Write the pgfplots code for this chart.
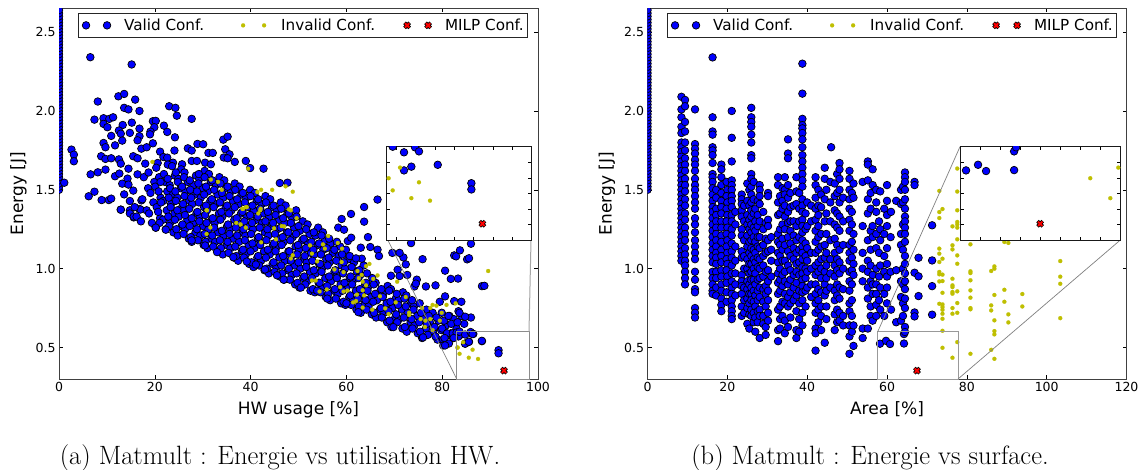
\documentclass[border=0pt]{standalone}
\usepackage{fontspec}
\setmainfont{DejaVu Sans}
\newfontfamily\capfont{Latin Modern Roman}
\usepackage{pgfplots}
\pgfplotsset{compat=1.18}
\definecolor{vblue}{rgb}{0,0,1}
\definecolor{iyel}{rgb}{0.75,0.75,0}
\pgfdeclareplotmark{milp}{%
  \pgfsetbuttcap
  \pgfsetlinewidth{3.6pt}\pgfsetstrokecolor{black}
  \pgfpathmoveto{\pgfpoint{-2.6pt}{-2.6pt}}\pgfpathlineto{\pgfpoint{2.6pt}{2.6pt}}
  \pgfpathmoveto{\pgfpoint{-2.6pt}{2.6pt}}\pgfpathlineto{\pgfpoint{2.6pt}{-2.6pt}}
  \pgfusepathqstroke
  \pgfsetlinewidth{1.9pt}\pgfsetstrokecolor{red}
  \pgfpathmoveto{\pgfpoint{-2.2pt}{-2.2pt}}\pgfpathlineto{\pgfpoint{2.2pt}{2.2pt}}
  \pgfpathmoveto{\pgfpoint{-2.2pt}{2.2pt}}\pgfpathlineto{\pgfpoint{2.2pt}{-2.2pt}}
  \pgfusepathqstroke}
\pgfplotsset{
  validstyle/.style={only marks,mark=*,mark size=3.8pt,mark options={fill=vblue,draw=black,line width=0.7pt}},
  invalidstyle/.style={only marks,mark=*,mark size=2pt,mark options={fill=iyel,draw=iyel,line width=0.2pt}},
  milpstyle/.style={only marks,mark=milp},
  basestyle/.style={
    scale only axis, anchor=south west, axis line style={draw=black!75,line width=0.9pt},
    tick align=inside, major tick length=4pt,
    tick style={black,line width=0.6pt}, clip=true, clip mode=global, clip marker paths=true,
    axis background/.style={fill=white}},
  mainstyle/.style={basestyle,
    width=479pt,height=370.5pt,ymin=0.3,ymax=2.65,
    ytick={0.5,1,1.5,2,2.5},yticklabels={0.5,1.0,1.5,2.0,2.5},
    ylabel={Energy [J]},
    tick label style={font=\fontsize{12.5}{14}\selectfont},
    /pgf/number format/assume math mode=true,
    label style={font=\fontsize{17}{20}\selectfont},
    xlabel style={yshift=-3pt},
    ylabel style={yshift=2pt},
    legend columns=3,
    legend cell align=left,
    legend style={font=\fontsize{15.2}{17}\selectfont,draw=black!85,line width=0.7pt,
      inner xsep=2pt,inner ysep=3pt,
      /tikz/every even column/.append style={column sep=0pt}},
    legend image code/.code={\path[#1,draw=none] plot coordinates {(0pt,0pt)};\path[#1,draw=none] plot coordinates {(21pt,0pt)};\path[draw=none] (-6pt,0)--(36pt,0);}
  },
  insetstyle/.style={basestyle,xticklabels={},yticklabels={},
    axis line style={draw=black!90,line width=0.9pt},major tick length=3.5pt}
}
\begin{document}
\begin{tikzpicture}
\path[use as bounding box] (0pt,0pt) rectangle (1142pt,469pt);
\begin{axis}[mainstyle,at={(59pt,90pt)},xmin=0,xmax=100,xtick={0,20,...,100},xlabel={HW usage [\%]},
  legend style={at={(18.7pt,365.5pt)},anchor=north west}]
\addplot[validstyle] coordinates {
(0,1.50)(0,1.52)(0,1.54)(0,1.56)(0,1.58)(0,1.60)(0,1.62)(0,1.64)(0,1.66)(0,1.68)(0,1.70)(0,1.72)(0,1.74)(0,1.76)(0,1.78)(0,1.80)(0,1.82)(0,1.84)(0,1.86)(0,1.88)(0,1.90)(0,1.92)(0,1.94)(0,1.96)(0,1.98)(0,2.00)(0,2.02)(0,2.04)(0,2.06)(0,2.08)(0,2.10)(0,2.12)(0,2.14)(0,2.16)(0,2.18)(0,2.20)(0,2.22)(0,2.24)(0,2.26)(0,2.28)(0,2.30)(0,2.32)(0,2.34)(0,2.36)(0,2.38)(0,2.40)(0,2.42)(0,2.44)(0,2.46)(0,2.48)(0,2.50)(0,2.52)(0,2.54)(0,2.56)(0,2.58)(0,2.60)(0,2.62)(0,2.64)(0,2.66)
(6.54,2.341)(15.17,2.295)(12.4,2.093)(13.6,2.108)(8.1,2.06)(15.9,2.072)(13.6,2.02)(14.5,2.01)(16.8,2.0)(23.0,2.03)(24.3,2.02)(24.6,1.97)(27.7,1.95)(7.4,1.945)(9.3,1.954)(10.5,1.95)(11.3,1.96)(9.3,1.918)(10.1,1.897)(13.3,1.911)(15.2,1.926)(19.6,1.935)(20.2,1.937)(19.9,1.897)(21.9,1.907)(12.5,1.876)(16.8,1.888)(12.9,1.856)(14.8,1.861)(19.1,1.869)(19,1.852)(22.6,1.867)(24.2,1.833)(10.9,1.842)(16.8,1.84)(16.4,1.814)(13.2,1.812)(34.3,1.818)(35.2,1.837)(9.3,1.797)(9.7,1.77)(11.7,1.782)(17.2,1.761)(18.3,1.77)(19.6,1.795)(21.1,1.742)(24.1,1.749)(26.9,1.763)(27.7,1.749)(28.9,1.791)(30.1,1.789)(31.2,1.734)(32.1,1.734)(34.7,1.757)(35.6,1.725)(34.4,1.705)(35.2,1.7)
(2.6,1.755)(3.1,1.723)(3.1,1.681)(1.1,1.545)(6.6,1.598)(8.1,1.611)(9.7,1.628)(8.8,1.713)(9.7,1.696)(10.9,1.70)(12.5,1.693)(12.9,1.666)(11.7,1.586)(12.6,1.603)(14.5,1.634)(14.3,1.571)(13.2,1.539)(14.5,1.533)(13.6,1.471)(15.5,1.495)(6.2,1.459)(7.4,1.488)(8.9,1.435)(10.4,1.435)(10.9,1.444)(12.9,1.374)(14.8,1.429)(14.8,1.37)(15.6,1.325)(16.8,1.378)(17.2,1.433)(16.4,1.598)(15.5,1.713)(16.4,1.7)(18,1.666)(20.6,1.67)(21.8,1.708)(22.6,1.704)(23.8,1.672)(25.7,1.662)(27.7,1.683)(28.8,1.683)(30.5,1.672)(31.7,1.662)(39,1.683)(36.7,1.677)(42.7,1.634)(39.9,1.638)(46.1,1.543)(47.7,1.545)(12.9,1.374)(14.8,1.35)(15.6,1.33)(17,1.375)
(16.2,1.33)(15.8,1.39)(17.1,1.30)(18.3,1.37)(17.4,1.44)(18.6,1.51)(17.7,1.58)(19.4,1.29)(18.8,1.35)(19.7,1.42)(19.1,1.48)(19.9,1.55)(18.7,1.61)
(20.2,1.26)(21.1,1.32)(20.4,1.39)(21.2,1.45)(20.1,1.52)(20.9,1.58)(20.3,1.64)
(22.3,1.25)(21.7,1.31)(22.5,1.37)(21.8,1.43)(22.6,1.49)(22.1,1.55)(21.9,1.60)(22.7,1.66)
(23.9,1.23)(23.2,1.29)(24.1,1.35)(23.4,1.41)(23.8,1.47)(23.1,1.53)(24.2,1.59)(23.6,1.65)
(24.8,1.21)(25.6,1.27)(25,1.33)(25.7,1.39)(24.7,1.45)(25.4,1.51)(24.9,1.57)(25.5,1.63)
(27.1,1.19)(26.3,1.25)(26.8,1.31)(26.1,1.37)(27.2,1.43)(26.4,1.49)(26.9,1.55)(26.2,1.61)
(27.7,1.17)(28.5,1.23)(28,1.29)(28.7,1.35)(27.8,1.41)(28.4,1.47)(28.1,1.53)(28.6,1.59)
(30.2,1.15)(29.5,1.21)(30.1,1.27)(29.4,1.33)(30.3,1.39)(29.6,1.45)(30,1.51)(29.3,1.57)(30.4,1.62)
(31,1.13)(31.8,1.19)(31.2,1.25)(31.9,1.31)(30.9,1.37)(31.6,1.43)(31.1,1.49)(31.7,1.55)(31.3,1.60)
(33.3,1.11)(32.6,1.17)(33.2,1.23)(32.5,1.29)(33.4,1.35)(32.7,1.41)(33.1,1.47)(32.8,1.53)(33.5,1.58)
(34.2,1.09)(35,1.15)(34.4,1.21)(35.1,1.27)(34.1,1.33)(34.8,1.39)(34.3,1.45)(34.9,1.51)(34.5,1.56)
(36.5,1.07)(35.8,1.13)(36.4,1.19)(35.7,1.25)(36.6,1.31)(36,1.37)(36.3,1.43)(35.9,1.49)(36.7,1.54)
(37.4,1.05)(38.2,1.11)(37.6,1.17)(38.3,1.23)(37.3,1.29)(38,1.35)(37.5,1.41)(38.1,1.47)(37.7,1.52)
(39.7,1.03)(39,1.09)(39.6,1.15)(38.9,1.21)(39.8,1.27)(39.2,1.33)(39.5,1.39)(39.1,1.45)(39.9,1.50)
(40.6,1.01)(41.4,1.07)(40.8,1.13)(41.5,1.19)(40.5,1.25)(41.2,1.31)(40.7,1.37)(41.3,1.43)(40.9,1.48)
(42.9,0.99)(42.2,1.05)(42.8,1.11)(42.1,1.17)(43,1.23)(42.4,1.29)(42.7,1.35)(42.3,1.41)(43.1,1.46)
(43.8,0.97)(44.6,1.03)(44,1.09)(44.7,1.15)(43.7,1.21)(44.4,1.27)(43.9,1.33)(44.5,1.39)(44.1,1.44)
(46.1,0.95)(45.4,1.01)(46,1.07)(45.3,1.13)(46.2,1.19)(45.6,1.25)(45.9,1.31)(45.5,1.37)(46.3,1.42)
(47,0.93)(47.8,0.99)(47.2,1.05)(47.9,1.11)(46.9,1.17)(47.6,1.23)(47.1,1.29)(47.7,1.35)(47.3,1.40)
(49.3,0.90)(48.6,0.96)(49.2,1.02)(48.5,1.08)(49.4,1.14)(48.8,1.20)(49.1,1.26)(48.7,1.32)(49.5,1.37)
(50.2,0.88)(51,0.94)(50.4,1.00)(51.1,1.06)(50.1,1.12)(50.8,1.18)(50.3,1.24)(50.9,1.30)
(52.5,0.86)(51.8,0.92)(52.4,0.98)(51.7,1.04)(52.6,1.10)(52,1.16)(52.3,1.22)(51.9,1.28)
(53.4,0.85)(54.2,0.91)(53.6,0.97)(54.3,1.03)(53.3,1.09)(54,1.15)(53.5,1.21)(54.1,1.26)
(55.7,0.82)(55,0.88)(55.6,0.94)(54.9,1.00)(55.8,1.06)(55.2,1.12)(55.5,1.18)(55.1,1.23)
(56.6,0.80)(57.4,0.86)(56.8,0.92)(57.5,0.98)(56.5,1.04)(57.2,1.10)(56.7,1.16)
(58.9,0.78)(58.2,0.84)(58.8,0.90)(58.1,0.96)(59,1.02)(58.4,1.08)(58.7,1.14)
(59.8,0.77)(60.6,0.82)(60,0.88)(60.7,0.94)(59.7,1.00)(60.4,1.06)(59.9,1.12)
(62.1,0.74)(61.4,0.80)(62,0.86)(61.3,0.92)(62.2,0.98)(61.6,1.04)
(63,0.72)(63.8,0.78)(63.2,0.84)(63.9,0.90)(62.9,0.96)(63.6,1.02)
(65.3,0.71)(64.6,0.76)(65.2,0.82)(64.5,0.88)(65.4,0.94)
(66.2,0.69)(67,0.74)(66.4,0.80)(67.1,0.86)(66.1,0.91)
(68.5,0.66)(67.8,0.72)(68.4,0.78)(67.7,0.84)(68.6,0.89)
(69.4,0.63)(70.2,0.69)(69.6,0.75)(70.3,0.81)(69.3,0.87)
(71.7,0.62)(71,0.68)(71.6,0.74)(70.9,0.80)(71.8,0.85)
(72.6,0.60)(73.4,0.66)(72.8,0.72)(73.5,0.78)(72.5,0.83)
(74.9,0.59)(74.2,0.64)(74.8,0.70)(74.1,0.76)
(75.8,0.56)(76.6,0.62)(76,0.68)(76.7,0.74)
(78.1,0.60)(77.4,0.66)(78,0.72)
(79,0.55)(79.8,0.61)(79.2,0.67)(79.9,0.72)
(80.6,0.52)(81.4,0.58)(80.8,0.64)(81.5,0.70)
(82.3,0.56)(83,0.62)(82.4,0.68)
(83.8,0.58)(84.6,0.65)(84,0.70)
(21,1.29)(20.7,1.36)(21.3,1.42)(20.8,1.49)(21.2,1.55)
(23,1.27)(22.8,1.33)(23.3,1.39)(22.9,1.45)(23.2,1.51)(22.7,1.57)
(24.5,1.25)(24.2,1.31)(24.7,1.37)(24.4,1.43)(24.3,1.49)(24.8,1.55)(24.4,1.61)
(26,1.22)(25.8,1.28)(26.3,1.34)(25.9,1.41)(26.2,1.46)(25.7,1.52)(26.1,1.58)
(27.5,1.20)(27.3,1.27)(27.7,1.32)(27.2,1.38)(27.6,1.45)(27.4,1.50)(27.3,1.56)
(29,1.18)(28.8,1.25)(29.3,1.30)(28.9,1.36)(29.2,1.42)(28.8,1.49)(29.1,1.54)(29.2,1.60)
(30.6,1.17)(30.4,1.22)(30.8,1.29)(30.5,1.34)(30.7,1.40)(30.3,1.47)(30.7,1.52)(30.4,1.58)
(32.2,1.14)(32,1.21)(32.4,1.26)(32.1,1.32)(32.3,1.39)(31.9,1.44)(32.4,1.50)(32,1.56)
(33.8,1.13)(33.6,1.18)(34,1.24)(33.7,1.31)(33.9,1.36)(33.6,1.42)(34,1.48)(33.7,1.54)
(35.4,1.10)(35.2,1.17)(35.6,1.22)(35.3,1.28)(35.5,1.35)(35.1,1.40)(35.6,1.46)(35.2,1.52)
(37,1.08)(36.8,1.14)(37.2,1.21)(36.9,1.26)(37.1,1.32)(36.7,1.39)(37.2,1.44)(36.8,1.50)
(38.6,1.07)(38.4,1.12)(38.8,1.18)(38.5,1.25)(38.7,1.30)(38.3,1.36)(38.8,1.42)(38.4,1.48)
(40.2,1.04)(40,1.11)(40.4,1.16)(40.1,1.22)(40.3,1.29)(39.9,1.34)(40.4,1.40)(40,1.46)
(41.8,1.02)(41.6,1.08)(42,1.15)(41.7,1.20)(41.9,1.26)(41.5,1.33)(42,1.38)(41.6,1.44)
(43.4,1.00)(43.2,1.07)(43.6,1.12)(43.3,1.18)(43.5,1.25)(43.1,1.30)(43.6,1.36)(43.2,1.42)
(45,0.98)(44.8,1.04)(45.2,1.11)(44.9,1.16)(45.1,1.22)(44.7,1.29)(45.2,1.34)(44.8,1.40)
(46.6,0.97)(46.4,1.02)(46.8,1.08)(46.5,1.15)(46.7,1.20)(46.3,1.26)(46.8,1.32)(46.4,1.38)
(48.2,0.93)(48,1.00)(48.4,1.05)(48.1,1.11)(48.3,1.18)(47.9,1.23)(48.4,1.29)(48,1.35)
(49.8,0.91)(49.6,0.97)(50,1.04)(49.7,1.09)(49.9,1.15)(49.5,1.22)(50,1.27)(49.6,1.33)
(51.4,0.90)(51.2,0.95)(51.6,1.01)(51.3,1.08)(51.5,1.13)(51.1,1.19)(51.6,1.25)
(53,0.87)(52.8,0.94)(53.2,0.99)(52.9,1.05)(53.1,1.12)(52.7,1.17)(53.2,1.23)
(54.6,0.85)(54.4,0.91)(54.8,0.98)(54.5,1.03)(54.7,1.09)(54.3,1.16)(54.8,1.21)
(56.2,0.84)(56,0.89)(56.4,0.95)(56.1,1.02)(56.3,1.07)(55.9,1.13)(56.4,1.19)
(57.8,0.81)(57.6,0.87)(58,0.94)(57.7,0.99)(57.9,1.05)(57.5,1.12)(58,1.17)
(59.4,0.79)(59.2,0.86)(59.6,0.91)(59.3,0.97)(59.5,1.04)(59.1,1.09)
(61,0.77)(60.8,0.83)(61.2,0.90)(60.9,0.95)(61.1,1.01)(60.7,1.08)
(62.6,0.76)(62.4,0.81)(62.8,0.87)(62.5,0.94)(62.7,0.99)
(64.2,0.74)(64,0.80)(64.4,0.86)(64.1,0.91)(64.3,0.97)
(65.8,0.72)(65.6,0.79)(66,0.84)(65.7,0.90)
(67.4,0.69)(67.2,0.75)(67.6,0.82)(67.3,0.87)
(69,0.67)(68.8,0.73)(69.2,0.79)(68.9,0.86)
(70.6,0.66)(70.4,0.71)(70.8,0.77)(70.5,0.84)
(72.2,0.63)(72,0.69)(72.4,0.76)(72.1,0.81)
(73.8,0.62)(73.6,0.68)(74,0.74)(73.7,0.80)
(75.4,0.60)(75.2,0.66)(75.6,0.72)(75.3,0.78)
(77,0.58)(76.8,0.65)(77.2,0.70)
(78.6,0.57)(78.4,0.63)(78.8,0.69)
(80.2,0.55)(80,0.62)(80.4,0.67)
(81.8,0.59)(81.9,0.65)(83.4,0.57)(83.2,0.66)
(20.2,1.26)(22.3,1.247)(27.7,1.179)(30.5,1.147)(33,1.105)(36.4,1.073)(39.2,1.045)(41.1,1.026)(43,0.995)(45.5,0.958)(46.9,0.93)(50.5,0.88)(53.9,0.86)(56,0.81)(60,0.78)(62.5,0.724)(69.8,0.629)(76,0.564)(80.2,0.513)
(66.5,1.438)(63.7,1.391)(60.96,1.347)(59,1.315)(63.7,1.298)(58.3,1.26)(59.5,1.247)(64.5,1.2)(60.3,1.175)(61,1.196)(63,1.133)(65,1.137)(66.5,1.12)(66.8,1.08)(63.2,1.063)(62,1.065)(71.9,1.071)(72.4,1.027)(75.9,1.06)(69.6,1.1)(71.1,1.1)(73.5,1.162)(82.5,1.084)(82.9,1.078)(83.7,1.116)(86,1.158)(85.2,1.059)(85.6,1.066)(80.6,0.987)(83.3,0.937)(81.8,0.935)(88.3,0.889)(88.8,0.891)(78.6,0.894)(76.6,0.887)(74.2,0.887)(74.7,0.93)(74.5,0.905)(70.7,0.993)(69.3,0.955)(71.1,0.953)(72.7,0.96)(80.6,0.824)(82.5,0.794)(84,0.79)(79.5,0.79)(83.4,0.73)(83.6,0.72)(86,0.69)(84.8,0.695)(81.3,0.7)(86.5,0.586)(86,0.59)(88.3,0.54)(85.6,0.536)(84.8,0.525)(81,0.59)(82.2,0.59)(83,0.595)(80.5,0.56)(82.4,0.56)(81.4,0.525)(80.6,0.513)
(83.62,0.60)(84.79,0.582)(85.93,0.598)(86.34,0.585)(84.79,0.524)(85.55,0.536)(88.28,0.542)(91.76,0.483)(91.76,0.463)
};
\addlegendentry{Valid Conf.\rule{31pt}{0pt}}
\addplot[invalidstyle] coordinates {
(30.9,1.37)(31.6,1.261)(30.8,1.22)(38.4,1.378)(39,1.39)(42,1.37)(37,1.29)(37.9,1.281)(39,1.26)(42.2,1.167)(44.9,1.256)(46.5,1.27)(45.3,1.186)(48.4,1.37)(49.6,1.32)(48.8,1.085)(48.4,1.064)(52.4,1.148)(52.8,1.095)(53.9,1.046)(53.6,0.925)(54.4,0.855)(55.9,0.868)(55.5,1.127)(55.1,1.154)(56.2,1.207)(59.1,1.127)(58.2,1.163)(59,1.042)(57.5,0.995)(59.4,0.978)(58.7,0.883)(59.4,0.855)(60.2,0.861)
(19.5,1.677)(31.7,1.565)(33.2,1.55)(34,1.5)(30.8,1.37)(39.5,1.634)(41.4,1.486)(42.2,1.5)(44.5,1.5)(47.3,1.522)(48.8,1.488)(38.3,1.38)(39.2,1.39)(42.1,1.38)(41.6,1.35)
(48,1.376)(47,1.268)(62.3,0.985)(63.2,0.96)(62.6,0.94)(64.8,1.03)(64.1,1.016)(66.5,0.957)(65.6,0.935)(63.4,0.917)(64.1,0.894)(63.4,0.863)(62.2,0.835)(63.7,0.83)(62,0.795)(61.4,0.786)(52.8,0.925)(63.4,0.753)(65.4,0.74)(68.1,0.748)(68.8,0.712)(70.3,0.786)(72.4,0.82)(67,0.825)(70.6,0.917)(73.1,0.721)(73.1,0.706)(75.5,0.68)(76.5,0.67)(77.5,0.68)(76.4,0.63)(75.8,0.75)(77.5,0.75)(78,0.77)(78.8,0.765)(80.9,0.77)(82.8,0.78)(79.9,0.72)(79.5,0.67)(78,0.61)(89.6,0.985)(83.2,0.50)
(84.38,0.533)(83.2,0.499)(83.62,0.460)(86.34,0.486)(85.55,0.435)(87.48,0.427)
};
\addlegendentry{Invalid Conf.\rule{24pt}{0pt}}
\addplot[milpstyle] coordinates {(92.9,0.353)};
\addlegendentry{MILP Conf.}
\end{axis}
\draw[black!45,line width=1pt] (456.7pt,90pt) rectangle (529pt,137.3pt);
\draw[black!50,line width=0.7pt] (388pt,228.7pt) -- (456.7pt,90pt);
\draw[black!35,line width=1pt] (531pt,228.7pt) -- (529pt,137.3pt);
\begin{axis}[insetstyle,at={(386.7pt,228.7pt)},width=145pt,height=93.6pt,xmin=83,xmax=98,ymin=0.3,ymax=0.6,
  xtick={84,86,...,96},ytick={0.35,0.4,0.45,0.5,0.55}]
\addplot[validstyle] coordinates {(83.62,0.60)(84.79,0.582)(85.93,0.598)(86.34,0.585)(84.79,0.524)(85.55,0.536)(88.28,0.542)(91.76,0.483)(91.76,0.463)};
\addplot[invalidstyle] coordinates {(84.38,0.533)(83.2,0.499)(83.62,0.460)(86.34,0.486)(85.55,0.435)(87.48,0.427)};
\addplot[milpstyle] coordinates {(92.9,0.353)};
\end{axis}
\begin{axis}[mainstyle,at={(647.5pt,90pt)},xmin=0,xmax=120,xtick={0,20,...,120},xlabel={Area [\%]},
  legend style={at={(19.2pt,365.5pt)},anchor=north west}]
\addplot[validstyle] coordinates {
(0,1.50)(0,1.52)(0,1.54)(0,1.56)(0,1.58)(0,1.60)(0,1.62)(0,1.64)(0,1.66)(0,1.68)(0,1.70)(0,1.72)(0,1.74)(0,1.76)(0,1.78)(0,1.80)(0,1.82)(0,1.84)(0,1.86)(0,1.88)(0,1.90)(0,1.92)(0,1.94)(0,1.96)(0,1.98)(0,2.00)(0,2.02)(0,2.04)(0,2.06)(0,2.08)(0,2.10)(0,2.12)(0,2.14)(0,2.16)(0,2.18)(0,2.20)(0,2.22)(0,2.24)(0,2.26)(0,2.28)(0,2.30)(0,2.32)(0,2.34)(0,2.36)(0,2.38)(0,2.40)(0,2.42)(0,2.44)(0,2.46)(0,2.48)(0,2.50)(0,2.52)(0,2.54)(0,2.56)(0,2.58)(0,2.60)(0,2.62)(0,2.64)(0,2.66)
(8.5,2.09)(8.5,2.01)(8.5,1.96)(8.5,1.90)(8.5,1.86)(8.5,1.80)(8.5,1.77)(8.5,1.74)(8.5,1.71)(8.5,1.68)(8.5,1.65)(8.5,1.62)(8.5,1.59)(8.5,1.56)(8.5,1.53)(8.5,1.50)(8.5,1.47)(8.5,1.44)(8.5,1.41)(8.5,1.38)(8.5,1.35)(8.5,1.32)(8.5,1.29)(8.5,1.26)(8.5,1.23)(8.5,1.20)(8.5,1.17)(8.5,1.14)(8.5,1.11)(8.5,1.08)(8.5,1.05)
(9.4,2.07)(9.4,2.03)(9.4,1.93)(9.4,1.87)(9.4,1.80)(9.4,1.75)(9.4,1.70)(9.4,1.66)(9.4,1.62)(9.4,1.57)(9.4,1.53)(9.4,1.49)(9.4,1.44)(9.4,1.40)(9.4,1.35)(9.4,1.31)(9.4,1.26)(9.4,1.22)(9.4,1.18)(9.4,1.13)(9.4,1.09)(9.4,1.05)(9.4,1.02)(9.4,0.98)(9.4,0.94)(9.4,0.90)
(11.9,2.01)(11.9,1.79)(11.9,1.76)(11.9,1.73)(11.9,1.69)(11.9,1.66)(11.9,1.62)(11.9,1.57)(11.9,1.53)(11.9,1.50)(11.9,1.46)(11.9,1.42)(11.9,1.38)(11.9,1.32)(11.9,1.28)(11.9,1.23)(11.9,1.18)(11.9,1.14)(11.9,1.10)(11.9,1.06)(11.9,0.98)(11.9,0.93)(11.9,0.87)(11.9,0.85)(11.9,0.75)(11.9,0.72)(11.9,0.69)
(16.3,2.34)(16.3,1.96)(16.3,1.87)(16.3,1.85)(16.3,1.77)(16.3,1.75)(16.3,1.72)(16.3,1.67)(16.3,1.60)(16.3,1.58)(16.3,1.55)(16.3,1.51)(16.3,1.47)(16.3,1.43)(16.3,1.39)(16.3,1.36)(16.3,1.32)(16.3,1.28)(16.3,1.24)(16.3,1.20)(16.3,1.16)(16.3,1.12)(16.3,1.08)(16.3,1.04)(16.3,0.98)(16.3,0.94)(16.3,0.90)(16.3,0.86)(16.3,0.84)
(17.2,1.50)(17.2,1.45)(17.2,1.38)(17.2,1.34)(17.2,1.30)(17.2,1.26)(17.2,1.22)(17.2,1.18)(17.2,1.14)(17.2,1.10)(17.2,1.07)(17.2,1.03)(17.2,0.98)(17.2,0.94)(17.2,0.88)(17.2,0.83)
(18.5,1.66)(18.5,1.63)(18.5,1.58)(18.5,1.53)(18.5,1.48)(18.5,1.43)(18.5,1.39)(18.5,1.35)(18.5,1.30)(18.5,1.26)(18.5,1.21)(18.5,1.17)(18.5,1.12)(18.5,1.08)(18.5,1.04)(18.5,0.99)(18.5,0.95)(18.5,0.90)(18.5,0.86)(18.5,0.81)(18.5,0.77)(18.5,0.73)
(19.8,1.55)(20,1.50)(19.8,1.46)(20,1.42)(19.8,1.38)(20,1.34)(19.8,1.30)(20,1.26)(19.8,1.22)(20,1.18)(19.8,1.14)(20,1.10)(19.8,1.06)(20,1.03)(19.8,0.99)(20,0.95)(19.8,0.91)(19.8,0.85)(19.8,0.79)
(21.1,2.0)(21.1,1.83)(21.1,1.68)(21.1,1.56)(21.1,1.53)(21.1,1.50)(21.1,1.46)(21.1,1.43)(21.1,1.39)(21.1,1.34)(21.1,1.30)(21.1,1.25)(21.1,1.21)(21.1,1.16)(21.1,1.11)(21.1,1.07)(21.1,1.02)(21.1,0.97)(21.1,0.92)(21.1,0.88)(21.1,0.84)(21.1,0.80)(21.1,0.76)(21.1,0.73)(21.1,0.70)(21.1,0.68)
(22,1.36)(22,1.28)(22,1.14)(22,1.05)(22,0.97)(22,0.90)(22,0.83)
(23.6,1.47)(23.6,1.44)(23.6,1.41)(23.6,1.37)(23.6,1.33)(23.6,1.25)(23.6,1.21)(23.6,1.11)(23.6,1.07)(23.6,0.96)(23.6,0.92)(23.6,0.89)(23.6,0.84)(23.6,0.76)(23.6,0.70)
(24.2,1.40)(24.2,1.30)(24.2,1.18)(24.2,1.08)(24.2,1.0)(24.2,0.88)(24.2,0.80)(24.2,0.72)
(25,1.54)(25,1.43)(25,1.34)(25,1.28)(25,1.21)(25,1.14)(25,1.06)(25,1.0)(25,0.92)(25,0.87)(25,0.81)(25,0.75)(25,0.65)
(25.5,1.50)(25.5,1.40)(25.5,1.31)(25.5,1.25)(25.5,1.17)(25.5,1.10)(25.5,1.03)(25.5,0.97)(25.5,0.90)(25.5,0.84)(25.5,0.78)(25.5,0.71)(25.5,0.62)
(26,2.02)(26,1.96)(26,1.93)(26,1.90)(26,1.85)(26,1.80)(26,1.72)(26,1.70)(26,1.60)(26,1.57)(26,1.52)(26,1.47)(26,1.42)(26,1.37)(26,1.33)(26,1.28)(26,1.23)(26,1.18)(26,1.13)(26,1.08)(26,1.03)(26,0.98)(26,0.93)(26,0.88)(26,0.84)(26,0.80)(26,0.74)(26,0.70)
(26.6,1.55)(26.6,1.44)(26.6,1.35)(26.6,1.26)(26.6,1.20)(26.6,1.12)(26.6,1.06)(26.6,1.0)(26.6,0.93)(26.6,0.86)(26.6,0.79)(26.6,0.72)(26.6,0.66)
(27,1.38)(27,1.30)(27,1.24)(27,1.17)(27,1.10)(27,1.04)(27,0.97)(27,0.90)(27,0.83)(27,0.76)(27,0.69)(27,0.60)
(27.6,1.43)(27.6,1.34)(27.6,1.27)(27.6,1.20)(27.6,1.14)(27.6,1.07)(27.6,1.01)(27.6,0.93)(27.6,0.86)(27.6,0.80)(27.6,0.73)(27.6,0.66)
(28.1,1.53)(28.1,1.50)(28.1,1.46)(28.1,1.41)(28.1,1.30)(28.1,1.20)(28.1,1.13)(28.1,1.06)(28.1,1.0)(28.1,0.94)(28.1,0.88)(28.1,0.82)(28.1,0.74)(28.1,0.70)(28.1,0.56)
(29,1.36)(29,1.25)(29,1.15)(29,1.08)(29,1.02)(29,0.95)(29,0.87)(29,0.79)(29,0.70)(29,0.65)
(29.6,1.29)(29.6,1.19)(29.6,1.10)(29.6,0.98)(29.6,0.89)(29.6,0.84)(29.6,0.76)(29.6,0.63)(29.6,0.58)
(30.2,1.48)(30.2,1.46)(30.2,1.31)(30.2,1.27)(30.2,1.18)(30.2,1.11)(30.2,0.99)(30.2,0.92)(30.2,0.86)(30.2,0.80)(30.2,0.72)(30.2,0.67)
(31,1.20)(31,1.12)(31,1.05)(31,0.95)
(32.7,1.58)(32.7,1.53)(32.7,1.42)(32.7,1.34)(32.7,1.22)(32.7,1.17)(32.7,1.10)(32.7,1.04)(32.7,0.97)(32.7,0.91)(32.7,0.84)(32.7,0.74)(32.7,0.61)(32.7,0.54)
(33.2,1.46)(33.2,1.35)(33.2,1.25)(33.2,1.15)(33.2,1.08)(33.2,1.0)(33.2,0.93)(33.2,0.86)(33.2,0.76)(33.2,0.68)(33.2,0.62)
(33.8,1.51)(33.8,1.43)(33.8,1.38)(33.8,1.28)(33.8,1.19)(33.8,1.12)(33.8,1.05)(33.8,0.96)(33.8,0.89)(33.8,0.79)(33.8,0.70)
(34.4,1.58)(34.4,1.50)(34.4,1.47)(34.4,1.40)(34.4,1.33)(34.4,1.25)(34.4,1.15)(34.4,1.05)(34.4,0.98)(34.4,0.92)(34.4,0.84)(34.4,0.78)(34.4,0.67)(34.4,0.59)
(35.2,1.82)(35.2,1.73)(35.2,1.70)(35.2,1.53)(35.2,1.45)(35.2,1.36)(35.2,1.29)(35.2,1.20)(35.2,1.11)(35.2,1.02)(35.2,0.90)(35.2,0.82)(35.2,0.76)(35.2,0.63)
(35.8,1.48)(35.8,1.39)(35.8,1.30)(35.8,1.24)(35.8,1.16)(35.8,1.08)(35.8,0.99)(35.8,0.93)(35.8,0.85)(35.8,0.78)(35.8,0.69)
(36.6,1.40)(36.6,1.30)(36.6,1.21)(36.6,1.13)(36.6,1.06)(36.6,0.96)(36.6,0.88)(36.6,0.80)
(37.3,1.58)(37.3,1.49)(37.3,1.41)(37.3,1.27)(37.3,1.18)(37.3,1.10)(37.3,1.03)(37.3,0.98)(37.3,0.91)(37.3,0.83)(37.3,0.73)(37.3,0.61)(37.3,0.56)
(38,1.48)(38,1.38)(38,1.30)(38,1.20)(38,1.12)(38,1.04)(38,0.96)(38,0.86)(38,0.78)(38,0.68)(38,0.60)
(38.8,2.30)(38.8,2.11)(38.8,1.95)(38.8,1.91)(38.8,1.89)(38.8,1.86)(38.8,1.82)(38.8,1.77)(38.8,1.72)(38.8,1.68)(38.8,1.64)(38.8,1.60)(38.8,1.56)(38.8,1.52)(38.8,1.44)(38.8,1.40)(38.8,1.36)(38.8,1.31)(38.8,1.27)(38.8,1.23)(38.8,1.18)(38.8,1.14)(38.8,1.10)(38.8,1.06)(38.8,1.01)(38.8,0.97)(38.8,0.93)(38.8,0.89)(38.8,0.85)(38.8,0.80)(38.8,0.72)(38.8,0.64)
(39.6,1.35)(39.6,1.25)(39.6,1.16)(39.6,1.08)(39.6,1.0)(39.6,0.94)(39.6,0.86)(39.6,0.76)
(40,1.42)(40,1.27)(40,1.13)(40,1.05)(40,0.98)(40,0.88)
(41,1.40)(41,1.30)(41,1.10)(41,1.0)(41,0.90)(41,0.82)
(42.1,1.58)(42.1,1.53)(42.1,1.45)(42.1,1.38)(42.1,1.31)(42.1,1.24)(42.1,1.17)(42.1,1.10)(42.1,1.02)(42.1,0.96)(42.1,0.90)(42.1,0.84)(42.1,0.78)(42.1,0.72)(42.1,0.62)(42.1,0.59)(42.1,0.48)
(42.8,1.50)(42.8,1.40)(42.8,1.34)(42.8,1.27)(42.8,1.20)(42.8,1.12)(42.8,1.04)(42.8,0.98)(42.8,0.87)(42.8,0.80)(42.8,0.74)(42.8,0.66)
(43.5,1.47)(43.5,1.39)(43.5,1.22)(43.5,1.14)(43.5,1.06)(43.5,1.0)(43.5,0.94)(43.5,0.85)(43.5,0.76)(43.5,0.70)(43.5,0.61)
(44.4,1.64)(44.4,1.57)(44.4,1.44)(44.4,1.30)(44.4,1.15)(44.4,1.07)(44.4,0.98)(44.4,0.90)(44.4,0.83)(44.4,0.53)
(44.8,1.50)(44.8,1.35)(44.8,1.22)(44.8,1.10)(44.8,1.02)(44.8,0.94)(44.8,0.86)(44.8,0.76)(44.8,0.68)
(45.8,1.55)(45.8,1.42)(45.8,1.30)(45.8,1.18)(45.8,1.06)(45.8,0.97)(45.8,0.88)
(46,1.77)(46.9,1.54)(46.9,1.46)(46.9,1.37)(46.9,1.28)(46.9,1.19)(46.9,1.10)(46.9,1.02)(46.9,0.95)(46.9,0.86)(46.9,0.80)(46.9,0.71)(46.9,0.61)
(47.5,1.60)(47.5,1.48)(47.5,1.35)(47.5,1.26)(47.5,1.15)(47.5,1.06)(47.5,0.99)(47.5,0.90)(47.5,0.83)(47.5,0.74)(47.5,0.66)
(48.1,1.67)(48.1,1.63)(48.1,1.57)(48.1,1.50)(48.1,1.42)(48.1,1.33)(48.1,1.24)(48.1,1.12)(48.1,1.04)(48.1,0.97)(48.1,0.88)(48.1,0.81)(48.1,0.72)(48.1,0.67)
(49,1.45)(49,1.30)(49,1.15)(49,1.0)(49,0.87)(49,0.70)(49,0.64)
(50.6,1.62)(50.6,1.57)(50.6,1.50)(50.6,1.44)(50.6,1.38)(50.6,1.31)(50.6,1.24)(50.6,1.15)(50.6,1.10)(50.6,1.05)(50.6,0.98)(50.6,0.92)(50.6,0.86)(50.6,0.78)(50.6,0.73)(50.6,0.64)(50.6,0.57)(50.6,0.46)
(51.2,1.48)(51.2,1.36)(51.2,1.28)(51.2,1.17)(51.2,1.07)(51.2,0.99)(51.2,0.90)(51.2,0.80)(51.2,0.70)(51.2,0.60)
(51.6,1.54)(51.6,1.45)(51.6,1.22)(51.6,1.12)(51.6,1.03)(51.6,0.96)(51.6,0.64)(51.6,0.51)
(53.9,1.55)(53.9,1.27)(53.9,1.10)(53.9,1.0)(53.9,0.92)(53.9,0.62)(53.9,0.56)
(55.2,1.68)(55.2,1.66)(55.2,1.56)(55.2,1.44)(55.2,1.35)(55.2,1.18)(55.2,1.05)(55.2,0.98)(55.2,0.88)(55.2,0.81)(55.2,0.62)
(55.9,1.48)(55.9,1.38)(55.9,1.24)(55.9,1.12)(55.9,1.02)(55.9,0.92)(55.9,0.76)(55.9,0.70)
(56.4,1.63)(56.4,1.53)(56.4,1.27)(56.4,1.20)(56.4,0.96)(56.4,0.90)(56.4,0.84)(56.4,0.67)
(57.3,1.50)(57.3,1.42)(57.3,1.36)(57.3,1.22)(57.3,1.13)(57.3,1.0)(57.3,0.90)(57.3,0.84)(57.3,0.77)(57.3,0.70)
(58,1.30)(58,1.10)(58,0.95)(58,0.80)
(58.3,1.49)(58.3,1.25)(58.3,1.18)(58.3,1.02)(58.3,0.88)(58.3,0.74)(58.25,0.524)
(59.3,1.38)(59.3,1.22)(59.3,1.08)(59.3,0.98)(59.3,0.84)(59.3,0.70)
(60,1.53)(60,1.43)(60,1.34)(60,1.27)(60,1.13)(60,1.03)(60,0.95)(60,0.88)(60,0.78)(59.75,0.542)
(60.9,1.20)(60.9,0.98)(60.75,0.522)(61,1.36)(61,0.74)(62.3,1.43)(62.3,0.99)(62.3,0.66)
(63.5,1.50)(63.5,1.41)(63.5,1.22)(63.5,1.15)(63.5,0.92)(63.5,0.82)(63.5,0.67)
(64,1.52)(64,1.42)(64,1.28)(64,1.12)(64,1.0)(64,0.90)(64,0.78)(64,0.70)
(64.5,1.61)(64.5,1.58)(64.5,1.55)(64.5,1.50)(64.5,1.44)(64.5,1.38)(64.5,1.33)(64.5,1.30)(64.5,1.26)(64.5,1.22)(64.5,1.17)(64.5,1.08)(64.5,1.03)(64.5,0.97)(64.5,0.92)(64.5,0.87)(64.5,0.81)(64.5,0.75)(64.5,0.63)(64.25,0.585)(64.5,0.598)(64.25,0.525)
(66.9,1.55)(66.9,1.53)(66.9,0.974)(66.9,0.722)(66.9,0.697)(67.9,1.069)(67.9,0.951)(67.9,0.826)
(71.3,1.275)(71.3,1.052)(71.3,0.889)(71.3,0.708)
};
\addlegendentry{Valid Conf.\rule{31pt}{0pt}}
\addplot[invalidstyle] coordinates {
(73.1,1.493)(73.1,1.359)(73.1,1.321)(73.1,1.127)(73.1,1.095)(73.1,1.042)(73.1,0.979)(73.1,0.964)(73.1,0.919)(73.1,0.777)
(73.9,1.378)(73.9,1.063)(73.9,0.962)(73.9,0.921)(73.9,0.847)(73.9,0.773)(73.9,0.756)(73.9,0.739)(73.9,0.714)(73.9,0.682)(73.9,0.606)(73.9,0.498)
(76.4,1.268)(76.4,1.148)(76.4,1.122)(76.4,0.936)(76.4,0.894)(76.4,0.883)(76.4,0.852)(76.4,0.841)(76.4,0.75)(76.4,0.714)(76.4,0.435)
(77.6,1.635)(77.6,1.489)(77.6,1.37)(77.6,1.296)(77.6,1.281)(77.6,1.26)(77.6,1.186)(77.6,1.084)(77.6,1.031)(77.6,0.856)(77.6,0.782)(77.6,0.72)(77.6,0.534)
(80.9,1.154)(80.9,0.983)(80.9,0.972)(80.9,0.926)(80.9,0.862)(80.9,0.816)(80.9,0.75)(80.9,0.742)(80.9,0.46)
(86.1,0.985)(86.1,0.767)(86.1,0.735)(86.1,0.485)(86.9,1.014)(86.9,0.9995)(86.9,0.833)(86.9,0.672)(86.9,0.604)(86.9,0.583)(86.9,0.428)
(89.4,1.169)(89.4,0.866)(89.4,0.79)(90.4,1.163)(90.4,0.71)(90.4,0.659)
(93.9,0.839)(93.9,0.76)
(103.4,1.048)(103.4,0.949)(103.4,0.904)(103.4,0.686)
};
\addlegendentry{Invalid Conf.\rule{24pt}{0pt}}
\addplot[milpstyle] coordinates {(67.5,0.353)};
\addlegendentry{MILP Conf.}
\end{axis}
\draw[black!40,line width=1pt] (877.7pt,90pt) rectangle (958pt,137.3pt);
\draw[black!50,line width=0.7pt] (960pt,322.3pt) -- (877.7pt,137.3pt);
\draw[black!50,line width=0.7pt] (1120pt,228.7pt) -- (958pt,90pt);
\begin{axis}[insetstyle,at={(960pt,228.7pt)},width=160.3pt,height=93.6pt,xmin=57.5,xmax=77.5,ymin=0.3,ymax=0.6,
  xtick={60,62.5,...,75},ytick={0.35,0.4,0.45,0.5,0.55}]
\addplot[validstyle] coordinates {(58.25,0.524)(59.75,0.542)(60.75,0.522)(64.25,0.525)(64.25,0.585)(64.5,0.598)};
\addplot[invalidstyle] coordinates {(73.75,0.499)(76.25,0.435)(77.25,0.533)};
\addplot[milpstyle] coordinates {(67.5,0.353)};
\end{axis}
\node[font=\capfont\fontsize{26.5}{30}\selectfont,anchor=base] at (280pt,5pt) {(a) Matmult : Energie vs utilisation HW.};
\node[font=\capfont\fontsize{26.5}{30}\selectfont,anchor=base] at (870pt,5pt) {(b) Matmult : Energie vs surface.};
\end{tikzpicture}
\end{document}
